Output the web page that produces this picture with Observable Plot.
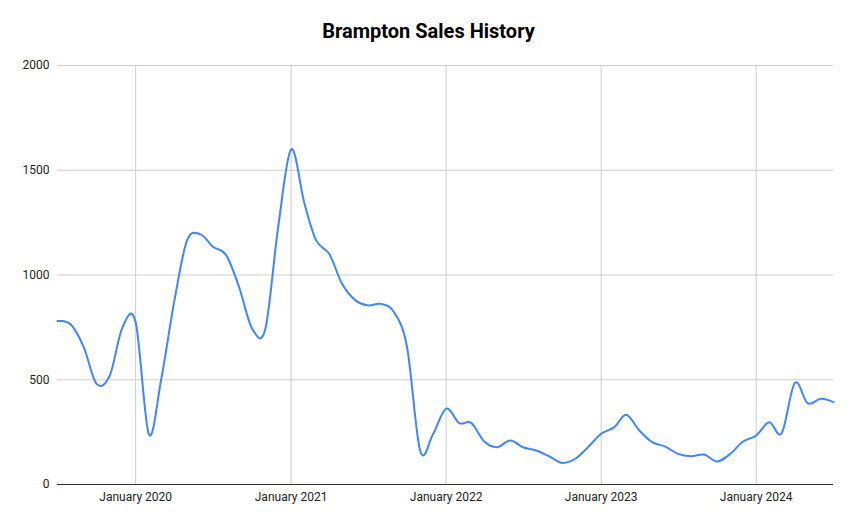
<!DOCTYPE html>
<html>
<head>
<meta charset="utf-8">
<script src="https://cdn.jsdelivr.net/npm/d3@7"></script>
<script src="https://cdn.jsdelivr.net/npm/@observablehq/plot@0.6"></script>
<style>
  body { margin: 0; background: #fff; }
  #title { width: 857px; height: 50px; line-height: 62px; text-align: center;
           font-family: Roboto, "Liberation Sans", sans-serif; font-weight: bold; font-size: 20px; color: #000; }
  #chart svg { display: block; }
</style>
</head>
<body>
<div id="title">Brampton Sales History</div>
<div id="chart"></div>
<script>
const months = [
  "2019-07","2019-08","2019-09","2019-10","2019-11","2019-12",
  "2020-01","2020-02","2020-03","2020-04","2020-05","2020-06",
  "2020-07","2020-08","2020-09","2020-10","2020-11","2020-12",
  "2021-01","2021-02","2021-03","2021-04","2021-05","2021-06",
  "2021-07","2021-08","2021-09","2021-10","2021-11","2021-12",
  "2022-01","2022-02","2022-03","2022-04","2022-05","2022-06",
  "2022-07","2022-08","2022-09","2022-10","2022-11","2022-12",
  "2023-01","2023-02","2023-03","2023-04","2023-05","2023-06",
  "2023-07","2023-08","2023-09","2023-10","2023-11","2023-12",
  "2024-01","2024-02","2024-03","2024-04","2024-05","2024-06","2024-07"
];
const sales = [
  780, 765, 655, 480, 520, 750,
  775, 240, 500, 875, 1165, 1195,
  1135, 1095, 940, 745, 740, 1220,
  1600, 1345, 1165, 1100, 958, 880,
  855, 862, 820, 655, 160, 240,
  362, 293, 294, 205, 178, 210,
  178, 162, 134, 103, 123, 178,
  242, 274, 333, 258, 202, 181,
  146, 135, 143, 110, 146, 205,
  234, 297, 245, 485, 388, 409, 393
];
const yTicks = [0, 500, 1000, 1500, 2000];
const xTickLabels = ["2020-01", "2021-01", "2022-01", "2023-01", "2024-01"];

const parse = d3.utcParse("%Y-%m");
const data = months.map((m, i) => ({date: parse(m), value: sales[i]}));
const xTicks = xTickLabels.map(parse);
const fmt = d3.utcFormat("%B %Y");

const chart = Plot.plot({
  width: 857,
  height: 475,
  marginTop: 15,
  marginBottom: 41,
  marginLeft: 57,
  marginRight: 24,
  style: {fontFamily: "Roboto, 'Liberation Sans', sans-serif", fontSize: "12px", color: "#222", background: "#fff"},
  x: {type: "utc", domain: [parse(months[0]), parse(months[months.length - 1])], ticks: xTicks, tickFormat: fmt, tickSize: 0, tickPadding: 8, label: null},
  y: {domain: [0, 2000], ticks: yTicks, tickSize: 0, tickPadding: 8, tickFormat: d => String(d), label: null},
  marks: [
    Plot.ruleY(yTicks.filter(d => d > 0), {stroke: "#cccccc", strokeWidth: 1}),
    Plot.ruleX(xTicks, {stroke: "#cccccc", strokeWidth: 1}),
    Plot.ruleY([0], {stroke: "#333333", strokeWidth: 1}),
    Plot.line(data, {x: "date", y: "value", stroke: "#4285f4", strokeWidth: 2, curve: "cardinal", tension: 0})
  ]
});
document.getElementById("chart").appendChild(chart);
</script>
</body>
</html>
